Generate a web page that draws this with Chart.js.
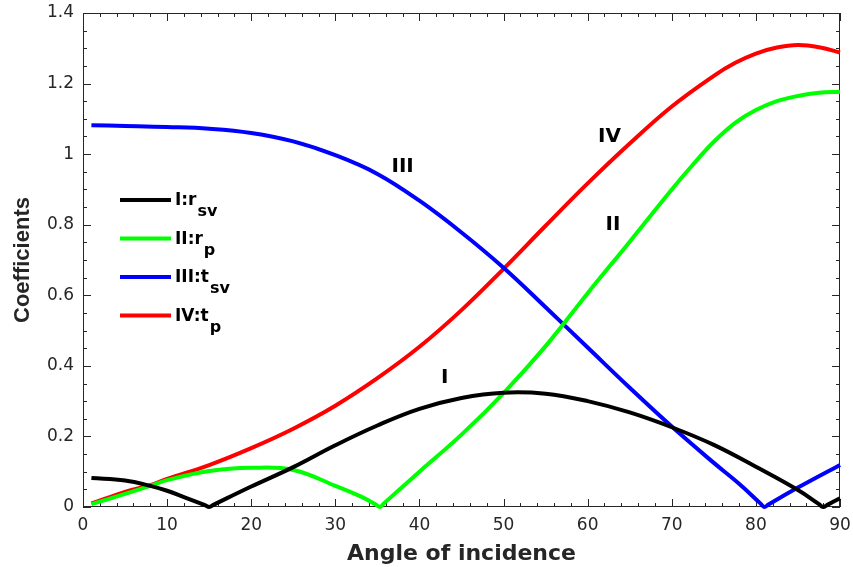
<!DOCTYPE html>
<html>
<head>
<meta charset="utf-8">
<script src="https://cdn.jsdelivr.net/npm/chart.js@4.4.1/dist/chart.umd.min.js"></script>
<style>
  html, body { margin: 0; padding: 0; background: #fff; }
</style>
</head>
<body>
<canvas id="myChart" width="853" height="567"></canvas>
<script>
// angles of incidence (deg) and coefficients for each curve
var angoli_I = [1, 5, 8, 10, 12, 14.5, 15, 15.5, 20, 25, 30, 35, 40, 45, 50, 55, 60, 65, 70, 75, 80, 85, 87.5, 88, 88.5, 90];
var r_sv = [0.082, 0.075, 0.06, 0.046, 0.028, 0.005, 0, 0.006, 0.058, 0.113, 0.175, 0.231, 0.278, 0.309, 0.324, 0.321, 0.3, 0.268, 0.226, 0.176, 0.114, 0.048, 0.008, 0, 0.006, 0.025];

var angoli_II = [1, 5, 8, 10, 15, 20, 25, 30, 33, 34.8, 35.3, 35.8, 40, 45, 50, 55, 60, 65, 70, 72.5, 75, 77.5, 80, 82.5, 85, 87.5, 90];
var r_p = [0.008, 0.037, 0.06, 0.076, 0.102, 0.111, 0.105, 0.06, 0.03, 0.007, 0, 0.011, 0.1, 0.205, 0.323, 0.456, 0.606, 0.752, 0.9, 0.97, 1.035, 1.088, 1.125, 1.15, 1.165, 1.174, 1.177];

var angoli_III = [1, 5, 10, 15, 20, 25, 30, 35, 40, 45, 50, 55, 60, 65, 70, 75, 78, 80.5, 81, 81.5, 85, 90];
var t_sv = [1.082, 1.08, 1.077, 1.072, 1.06, 1.036, 0.997, 0.944, 0.868, 0.778, 0.678, 0.566, 0.452, 0.338, 0.228, 0.125, 0.066, 0.011, 0, 0.007, 0.055, 0.119];

var angoli_IV = [1, 5, 8, 10, 15, 20, 25, 30, 35, 40, 45, 50, 55, 60, 65, 70, 75, 77.5, 80, 82.5, 85, 87.5, 90];
var t_p = [0.01, 0.043, 0.062, 0.08, 0.119, 0.167, 0.222, 0.287, 0.365, 0.454, 0.558, 0.675, 0.797, 0.917, 1.03, 1.135, 1.222, 1.258, 1.285, 1.302, 1.309, 1.303, 1.288];

// legend text: main part + subscript
var legenda = ['I:r', 'II:r', 'III:t', 'IV:t'];
var pedici = ['sv', 'p', 'sv', 'p'];
var colori = ['#000000', '#00ff00', '#0000ff', '#ff0000'];

// roman numerals written next to the curves (data coords)
var etichette = [
  { testo: 'I', x: 43.0, y: 0.366 },
  { testo: 'II', x: 63.0, y: 0.799 },
  { testo: 'III', x: 38.0, y: 0.963 },
  { testo: 'IV', x: 62.6, y: 1.05 }
];

function punti(xs, ys) {
  var out = [];
  for (var i = 0; i < xs.length; i++) {
    out.push({ x: xs[i], y: ys[i] });
  }
  return out;
}

function serie(xs, ys, colore) {
  return {
    data: punti(xs, ys),
    borderColor: colore,
    backgroundColor: colore,
    borderWidth: 4,
    pointRadius: 0,
    fill: false,
    tension: 0.4,
    clip: 6
  };
}

var AXIS_COLOR = '#262626';

// box around the plot with inward ticks on all four sides
var boxTicks = {
  id: 'boxTicks',
  beforeDatasetsDraw: function (chart) {
    var ctx = chart.ctx;
    var a = chart.chartArea;
    var xs = chart.scales.x;
    var ys = chart.scales.y;
    ctx.save();
    ctx.strokeStyle = AXIS_COLOR;
    ctx.lineWidth = 1;
    ctx.strokeRect(a.left + 0.5, a.top + 0.5, a.right - a.left - 1, a.bottom - a.top - 1);
    ctx.beginPath();
    for (var v = 0; v <= 90; v += 2) {
      var px = Math.round(xs.getPixelForValue(v)) + 0.5;
      var len = (v % 10 === 0) ? 8 : 4;
      ctx.moveTo(px, a.bottom);
      ctx.lineTo(px, a.bottom - len);
      ctx.moveTo(px, a.top);
      ctx.lineTo(px, a.top + len);
    }
    for (var k = 0; k <= 28; k++) {
      var val = k * 0.05;
      var py = Math.round(ys.getPixelForValue(val)) + 0.5;
      var l2 = (k % 4 === 0) ? 8 : 4;
      ctx.moveTo(a.left, py);
      ctx.lineTo(a.left + l2, py);
      ctx.moveTo(a.right, py);
      ctx.lineTo(a.right - l2, py);
    }
    ctx.stroke();
    ctx.restore();
  }
};

// legend with subscripts and the curve labels
var testi = {
  id: 'testi',
  afterDatasetsDraw: function (chart) {
    var ctx = chart.ctx;
    var xs = chart.scales.x;
    var ys = chart.scales.y;
    ctx.save();
    ctx.fillStyle = '#000';
    ctx.textAlign = 'center';
    ctx.textBaseline = 'middle';
    ctx.font = 'bold 20px "DejaVu Sans"';
    for (var i = 0; i < etichette.length; i++) {
      var e = etichette[i];
      ctx.fillText(e.testo, xs.getPixelForValue(e.x), ys.getPixelForValue(e.y));
    }

    ctx.textAlign = 'left';
    ctx.textBaseline = 'alphabetic';
    for (var j = 0; j < legenda.length; j++) {
      var yl = 200 + j * 38.5;
      ctx.strokeStyle = colori[j];
      ctx.lineWidth = 4;
      ctx.beginPath();
      ctx.moveTo(120, yl);
      ctx.lineTo(171, yl);
      ctx.stroke();
      ctx.font = 'bold 17px "DejaVu Sans"';
      ctx.fillText(legenda[j], 175, yl + 5);
      var w = ctx.measureText(legenda[j]).width;
      ctx.font = 'bold 16px "DejaVu Sans"';
      ctx.fillText(pedici[j], 175 + w + 1, yl + 16);
    }
    ctx.restore();
  }
};

// GRAPH SETTINGS
var ctx = document.getElementById('myChart').getContext('2d');
var myChart = new Chart(ctx, {
  type: 'line',
  data: {
    datasets: [
      serie(angoli_I, r_sv, colori[0]),
      serie(angoli_II, r_p, colori[1]),
      serie(angoli_III, t_sv, colori[2]),
      serie(angoli_IV, t_p, colori[3])
    ]
  },
  options: {
    responsive: false,
    animation: false,
    layout: { padding: { top: 13, right: 13, left: 0, bottom: 0 } },
    plugins: {
      legend: { display: false },
      tooltip: { enabled: false }
    },
    scales: {
      x: {
        type: 'linear',
        min: 0,
        max: 90,
        grid: { display: false, drawTicks: false },
        border: { display: false },
        ticks: {
          stepSize: 10,
          color: AXIS_COLOR,
          padding: 8,
          font: { family: 'DejaVu Sans', size: 17 }
        },
        title: {
          display: true,
          text: 'Angle of incidence',
          color: AXIS_COLOR,
          padding: { top: 3, bottom: 0 },
          font: { family: 'DejaVu Sans', size: 22, weight: 'bold' }
        },
        afterFit: function (scale) {
          scale.height = 60;
          scale.paddingLeft = 0;
          scale.paddingRight = 0;
        }
      },
      y: {
        min: 0,
        max: 1.4,
        grid: { display: false, drawTicks: false },
        border: { display: false },
        ticks: {
          stepSize: 0.2,
          color: AXIS_COLOR,
          padding: 9,
          font: { family: 'DejaVu Sans', size: 17 },
          callback: function (value) {
            return String(Math.round(value * 10) / 10);
          }
        },
        title: {
          display: true,
          text: 'Coefficients',
          color: AXIS_COLOR,
          padding: { top: 10, bottom: 0 },
          font: { family: 'Liberation Sans', size: 22, weight: 'bold' }
        },
        afterFit: function (scale) {
          scale.width = 83;
          scale.paddingTop = 0;
          scale.paddingBottom = 0;
        }
      }
    }
  },
  plugins: [boxTicks, testi]
});
</script>
</body>
</html>
